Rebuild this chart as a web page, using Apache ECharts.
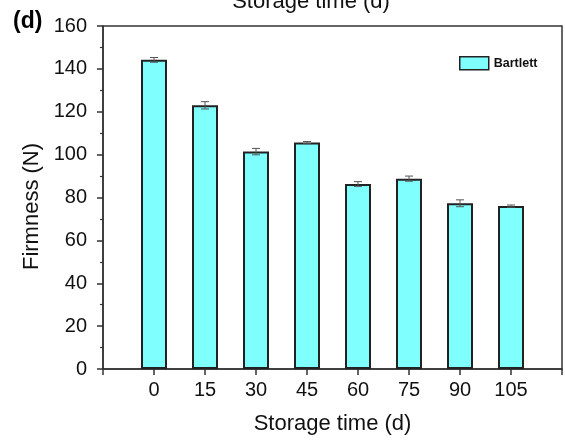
<!DOCTYPE html>
<html>
<head>
<meta charset="utf-8">
<script src="https://cdn.jsdelivr.net/npm/echarts@6/dist/echarts.min.js"></script>
<style>
  html, body { margin: 0; padding: 0; background: #fff; }
  #chart { width: 565px; height: 442px; }
</style>
</head>
<body>
<div id="chart"></div>
<script>
// Storage days, mean firmness (N) and standard deviation for Bartlett pears
const days = [0, 15, 30, 45, 60, 75, 90, 105];
const firmness = [144.2, 123.0, 101.4, 105.6, 86.3, 88.8, 77.3, 76.0];
const firmnessSD = [1.1, 1.7, 1.5, 0.5, 1.1, 1.2, 1.6, 0.5];
const yTicks = [0, 20, 40, 60, 80, 100, 120, 140, 160];

const FONT = '"Liberation Sans", Arial, Helvetica, sans-serif';

const chart = echarts.init(document.getElementById('chart'), null, { renderer: 'canvas' });

const barData = days.map((d, i) => [d, firmness[i]]);
const errData = days.map((d, i) => [d, firmness[i] - firmnessSD[i], firmness[i] + firmnessSD[i]]);

chart.setOption({
  animation: false,
  backgroundColor: '#fff',
  grid: {
    left: 103, top: 26, right: 1, bottom: 73,
    show: true, borderColor: '#333', borderWidth: 1.5, backgroundColor: 'transparent'
  },
  legend: {
    data: [{ name: 'Bartlett', icon: 'rect' }],
    left: 454, top: 51,
    itemWidth: 29, itemHeight: 13,
    textStyle: { fontFamily: FONT, fontSize: 12.5, fontWeight: 'bold', color: '#111' },
    itemStyle: { color: '#80ffff', borderColor: '#222', borderWidth: 1.5 }
  },
  graphic: [
    {
      type: 'text', left: 13, top: 10,
      style: { text: '(d)', font: 'bold 23px ' + FONT, fill: '#000' }
    },
    {
      type: 'text', x: 311, y: 2,
      style: { text: 'Storage time (d)', font: '22px ' + FONT, fill: '#111', align: 'center', verticalAlign: 'middle' }
    }
  ],
  xAxis: {
    type: 'value',
    min: -15, max: 120, interval: 15,
    name: 'Storage time (d)',
    nameLocation: 'middle',
    nameGap: 44,
    nameTextStyle: { fontFamily: FONT, fontSize: 22, color: '#111' },
    axisLine: { show: true, onZero: false, lineStyle: { color: '#333', width: 1.5 } },
    axisTick: { show: true, inside: false, length: 6, lineStyle: { color: '#333', width: 1.5 } },
    axisLabel: {
      fontFamily: FONT, fontSize: 20, color: '#111', margin: 11,
      formatter: v => (days.indexOf(v) >= 0 ? String(v) : '')
    },
    splitLine: { show: false }
  },
  yAxis: {
    type: 'value',
    min: yTicks[0], max: yTicks[yTicks.length - 1], interval: 20,
    name: 'Firmness (N)',
    nameLocation: 'middle',
    nameGap: 56,
    nameTextStyle: { fontFamily: FONT, fontSize: 22, color: '#111', padding: [0, 18, 0, 0] },
    axisLine: { show: true, onZero: false, lineStyle: { color: '#333', width: 1.5 } },
    axisTick: { show: true, inside: false, length: 6, lineStyle: { color: '#333', width: 1.5 } },
    minorTick: { show: true, splitNumber: 2, length: 3, lineStyle: { color: '#333', width: 1.2 } },
    axisLabel: { fontFamily: FONT, fontSize: 20, color: '#111', margin: 16 },
    splitLine: { show: false }
  },
  series: [
    {
      name: 'Bartlett',
      type: 'bar',
      data: barData,
      barWidth: 26,
      itemStyle: { color: '#80ffff', borderColor: '#222', borderWidth: 2 },
      z: 2
    },
    {
      name: 'SD',
      type: 'custom',
      dimensions: ['day', 'low', 'high'],
      encode: { x: 0, y: [1, 2] },
      data: errData,
      z: 3,
      silent: true,
      renderItem: function (params, api) {
        const x = api.value(0);
        const lo = api.coord([x, api.value(1)]);
        const hi = api.coord([x, api.value(2)]);
        const half = 4;
        const style = { stroke: '#555', lineWidth: 1, fill: null };
        return {
          type: 'group',
          children: [
            { type: 'line', shape: { x1: lo[0], y1: lo[1], x2: hi[0], y2: hi[1] }, style: style },
            { type: 'line', shape: { x1: hi[0] - half, y1: hi[1], x2: hi[0] + half, y2: hi[1] }, style: style },
            { type: 'line', shape: { x1: lo[0] - half, y1: lo[1], x2: lo[0] + half, y2: lo[1] }, style: style }
          ]
        };
      }
    }
  ]
});
</script>
</body>
</html>
